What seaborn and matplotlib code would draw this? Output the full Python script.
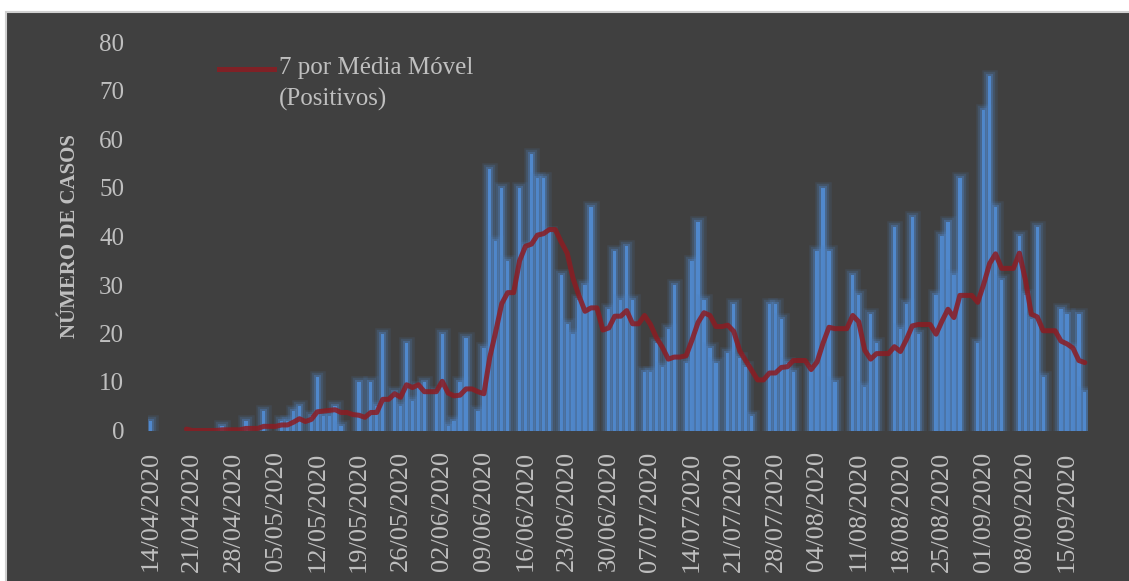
import numpy as np
import pandas as pd
import seaborn as sns
import matplotlib as mpl
import matplotlib.pyplot as plt
import matplotlib.patheffects as pe
from matplotlib.patches import Rectangle
from matplotlib.lines import Line2D
from matplotlib.legend_handler import HandlerLine2D

# === DATA ===
datas = pd.date_range('2020-04-14', '2020-09-18', freq='D')
positivos = [
    2, 0, 0, 0, 0, 0, 0, 0, 0, 0, 0, 0, 1, 0, 0, 0, 2, 0, 0, 4,
    0, 0, 2, 2, 4, 5, 0, 3, 11, 3, 3, 5, 1, 0, 0, 10, 0, 10, 5, 20,
    0, 8, 5, 18, 6, 9, 10, 0, 8, 20, 1, 2, 10, 19, 0, 4, 17, 54, 39, 50,
    35, 0, 50, 38, 57, 52, 52, 41, 0, 32, 22, 20, 27, 30, 46, 0, 0, 25, 37, 27,
    38, 27, 0, 12, 12, 18, 13, 21, 30, 0, 14, 35, 43, 27, 17, 14, 0, 16, 26, 15,
    13, 3, 0, 0, 26, 26, 23, 14, 12, 0, 0, 13, 37, 50, 37, 10, 0, 0, 32, 28,
    9, 24, 18, 0, 0, 42, 21, 26, 44, 20, 0, 0, 28, 40, 43, 32, 52, 0, 0, 18,
    66, 73, 46, 31, 0, 0, 40, 28, 23, 42, 11, 0, 0, 25, 24, 17, 24, 8,
]
y_ticks = [0, 10, 20, 30, 40, 50, 60, 70, 80]

df = pd.DataFrame({'dia': np.arange(len(datas)), 'Positivos': positivos})
df['media'] = df['Positivos'].rolling(7).mean()

# === STYLE ===
fundo = '#404040'
texto = '#bfbfbf'
azul = '#5088cc'
brilho = '#4f81bd'
vermelho = '#8c1c22'
mpl.rcParams['font.family'] = ['Liberation Serif', 'DejaVu Serif']


class HandleNaPrimeiraLinha(HandlerLine2D):
    # keep the legend line level with the first line of the label
    def create_artists(self, legend, orig_handle, xdescent, ydescent,
                       width, height, fontsize, trans):
        arts = super().create_artists(legend, orig_handle, xdescent, ydescent,
                                      width, height, fontsize, trans)
        for a in arts:
            a.set_ydata(np.asarray(a.get_ydata()) + 0.6 * fontsize)
        return arts


fig = plt.figure(figsize=(11.29, 5.81), dpi=100, facecolor='white')
fig.patches.append(Rectangle((5.5 / 1129, -0.05), 1.1, (581 - 11.5) / 581 + 0.05,
                             transform=fig.transFigure, facecolor=fundo,
                             edgecolor='#d0d0d0', linewidth=1.5, zorder=-10))
ax = fig.add_axes([147.7 / 1129, (581 - 430.5) / 581, 940.1 / 1129, 388 / 581])
ax.patch.set_alpha(0)

# === BARS ===
sns.barplot(data=df, x='dia', y='Positivos', color=azul, width=0.55,
            saturation=1, ax=ax, zorder=2)
for p in ax.patches:
    if p.get_height() > 0:
        p.set_path_effects([
            pe.Stroke(linewidth=9, foreground=brilho, alpha=0.13),
            pe.Stroke(linewidth=6, foreground=brilho, alpha=0.22),
            pe.Stroke(linewidth=3, foreground=brilho, alpha=0.4),
            pe.Normal()])
    p.set_linewidth(0)

# === MOVING AVERAGE ===
sns.lineplot(data=df, x='dia', y='media', color=vermelho, linewidth=3.6,
             alpha=0.85, ax=ax, zorder=3, solid_capstyle='round',
             solid_joinstyle='round')

# === AXES ===
ax.set_xlim(-0.5, len(datas) - 0.5)
ax.set_ylim(0, 80)
ax.set_yticks(y_ticks)
ax.set_yticklabels([str(v) for v in y_ticks])
ticks = np.arange(0, len(datas), 7)
ax.set_xticks(ticks)
ax.set_xticklabels([datas[i].strftime('%d/%m/%Y') for i in ticks], rotation=90)
ax.tick_params(axis='y', length=0, pad=17, labelsize=18, labelcolor=texto)
ax.tick_params(axis='x', length=0, pad=15, labelsize=19, labelcolor=texto)
for s in ax.spines.values():
    s.set_visible(False)
ax.set_xlabel('')
ax.set_ylabel('NÚMERO DE CASOS', fontsize=15, fontweight='bold', color=texto)
ax.yaxis.set_label_coords(-0.072, 0.5)

# === LEGEND ===
handle = Line2D([], [], color=vermelho, linewidth=3.6, alpha=0.85)
leg = ax.legend(handles=[handle], labels=['7 por Média Móvel\n(Positivos)'],
                loc='upper left', bbox_to_anchor=(0.052, 1.02), frameon=False,
                fontsize=18, labelcolor=texto, handlelength=2.2,
                handletextpad=0.2,
                handler_map={Line2D: HandleNaPrimeiraLinha()})
for t in leg.get_texts():
    t.set_linespacing(1.5)

fig.savefig('out.png', dpi=100, facecolor=fig.get_facecolor())
